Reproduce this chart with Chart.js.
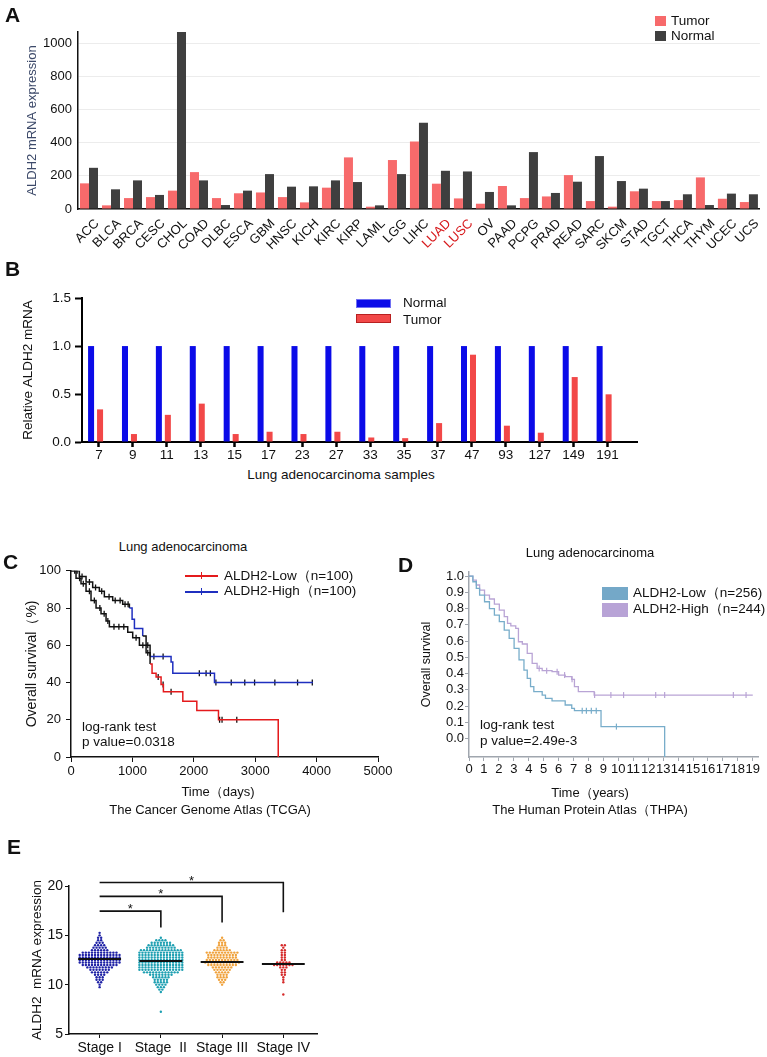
<!DOCTYPE html>
<html>
<head>
<meta charset="utf-8">
<script src="https://cdn.jsdelivr.net/npm/chart.js@4.4.1/dist/chart.umd.min.js"></script>
<style>
  body { margin: 0; background: #fff; width: 767px; height: 1057px; position: relative; overflow: hidden;
         font-family: "Liberation Sans", Arial, Helvetica, sans-serif; color: #111; }
  canvas { position: absolute; }
  .t { position: absolute; white-space: pre; line-height: 1.2; }
  .sw { position: absolute; }
</style>
</head>
<body>
<script>
// ---- Panel A: TCGA tumor vs normal ----
const cancerTypes = ["ACC","BLCA","BRCA","CESC","CHOL","COAD","DLBC","ESCA","GBM","HNSC","KICH","KIRC","KIRP","LAML","LGG","LIHC","LUAD","LUSC","OV","PAAD","PCPG","PRAD","READ","SARC","SKCM","STAD","TGCT","THCA","THYM","UCEC","UCS"];
const tumorExpr  = [155, 22, 66, 72, 111, 223, 66, 95, 100, 72, 40, 129, 312, 14, 296, 408, 153, 64, 32, 139, 66, 76, 205, 48, 14, 107, 48, 54, 191, 62, 42];
const normalExpr = [249, 119, 173, 85, 1070, 173, 24, 111, 211, 135, 137, 173, 163, 22, 211, 521, 231, 227, 103, 22, 344, 97, 165, 320, 169, 123, 48, 89, 24, 93, 89];
const highlighted = ["LUAD", "LUSC"];

// ---- Panel B: qPCR samples ----
const sampleIds = ["7","9","11","13","15","17","23","27","33","35","37","47","93","127","149","191"];
const normalRel = [1, 1, 1, 1, 1, 1, 1, 1, 1, 1, 1, 1, 1, 1, 1, 1];
const tumorRel  = [0.34, 0.083, 0.283, 0.40, 0.083, 0.107, 0.083, 0.107, 0.047, 0.04, 0.197, 0.91, 0.17, 0.097, 0.677, 0.497];
const relTicks  = [0, 0.5, 1.0, 1.5];

// ---- Panel C: TCGA survival (days, % alive after each step) ----
const tcgaLowDays  = [0, 82, 163, 245, 326, 408, 489, 571, 625, 924, 1005, 1114, 1223, 1288, 1320, 1386, 1467, 1505, 1821, 2049, 2402, 3375];
const tcgaLowSurv  = [100, 96, 93, 89, 84, 80, 77, 73, 70, 67, 64, 60, 56, 50, 45, 43, 39, 35, 30, 25, 20, 0];
const tcgaHighDays = [0, 136, 245, 353, 462, 543, 679, 842, 951, 995, 1033, 1168, 1223, 1288, 1630, 1658, 2337, 3940];
const tcgaHighSurv = [100, 97, 94, 91, 89, 86, 84, 82, 80, 74, 69, 65, 60, 54, 51, 45, 40, 40];
const tcgaLowCensor  = [60, 140, 200, 300, 380, 470, 540, 600, 700, 780, 860, 1060, 1170, 1250, 1420, 1500, 1630, 2420, 2460, 2700];
const tcgaHighCensor = [100, 180, 300, 400, 500, 620, 720, 800, 880, 930, 1250, 1350, 1500, 2090, 2200, 2270, 2360, 2610, 2830, 2990, 3320, 3690, 3930];
const tcgaLowBlack  = [[0, 1300]];
const tcgaHighBlack = [[0, 990], [1168, 1300]];

// ---- Panel D: THPA survival (years, fraction) ----
const thpaLowYears  = [0, 0.26, 0.49, 0.71, 1.04, 1.37, 1.70, 2.03, 2.36, 2.69, 3.02, 3.35, 3.68, 3.90, 4.12, 4.34, 4.90, 5.12, 5.56, 6.44, 6.88, 7.06, 8.84, 13.1];
const thpaLowSurv   = [1.0, 0.965, 0.924, 0.883, 0.842, 0.80, 0.76, 0.72, 0.668, 0.617, 0.555, 0.484, 0.422, 0.371, 0.32, 0.289, 0.268, 0.248, 0.232, 0.207, 0.186, 0.172, 0.074, -0.113];
const thpaHighYears = [0, 0.26, 0.49, 0.71, 1.04, 1.37, 1.70, 2.03, 2.36, 2.58, 2.80, 3.13, 3.31, 3.57, 3.90, 4.23, 4.56, 4.90, 5.56, 6.00, 6.44, 6.88, 7.06, 7.32, 8.38, 19.0];
const thpaHighSurv  = [1.0, 0.975, 0.945, 0.914, 0.883, 0.859, 0.828, 0.791, 0.75, 0.709, 0.693, 0.678, 0.596, 0.582, 0.525, 0.463, 0.432, 0.418, 0.412, 0.391, 0.381, 0.365, 0.32, 0.289, 0.268, 0.268];
const thpaLowCensor  = [7.58, 7.86, 8.19, 8.52, 9.87];
const thpaHighCensor = [4.7, 5.2, 5.9, 6.4, 6.9, 8.41, 9.5, 10.35, 12.5, 13.1, 17.7, 18.55];
const thpaSurvTicks = [0.0, 0.1, 0.2, 0.3, 0.4, 0.5, 0.6, 0.7, 0.8, 0.9, 1.0];
const thpaYearTicks = [0, 1, 2, 3, 4, 5, 6, 7, 8, 9, 10, 11, 12, 13, 14, 15, 16, 17, 18, 19];

// ---- Panel E: expression by stage (count of samples at each level) ----
const stageNames = ["Stage I", "Stage  II", "Stage III", "Stage IV"];
const eLevels = [7.0, 7.25, 7.5, 7.75, 8.0, 8.25, 8.5, 8.75, 9.0, 9.25, 9.5, 9.75, 10.0, 10.25, 10.5, 10.75, 11.0, 11.25, 11.5, 11.75, 12.0, 12.25, 12.5, 12.75, 13.0, 13.25, 13.5, 13.75, 14.0, 14.25, 14.5, 14.75, 15.0, 15.25];
const stage1Counts = [0,0,0,0,0,0,0,0,0,0,0, 1,1,2,3,3,4,6,7,9,12,14,14,14,14,12,6,5,4,3,2,2,1,1];
const stage2Counts = [0,1,0,0,0,0,0,0,0, 1,2,3,4,5,5,6,8,12,15,15,15,15,15,15,15,15,14,10,9,7,4,1,0,0];
const stage3Counts = [0,0,0,0,0,0,0,0,0,0,0,0, 1,2,3,4,4,5,6,7,10,12,11,10,10,11,6,4,3,3,2,1,0,0];
const stage4Counts = [0,0,0,0,0,0,0,0,1,0,0,0,0,1,1,1,2,2,2,3,7,5,2,2,2,2,2,1,2,0,0,0,0,0];
const stageMeans = [12.6, 12.4, 12.3, 12.1];
const bracketTo   = [1, 2, 3];
const bracketTop  = [17.45, 18.95, 20.35];
const bracketDrop = [15.8, 16.3, 17.35];

Chart.defaults.font.family = '"Liberation Sans", Arial, Helvetica, sans-serif';
Chart.defaults.color = '#111';
Chart.defaults.animation = false;
Chart.defaults.responsive = false;
Chart.defaults.plugins.legend.display = false;
Chart.defaults.plugins.tooltip.enabled = false;

// canvas placed so that the plot area lands on plot {l,t,r,b}
function panelCanvas(plot, pad) {
  const c = document.createElement('canvas');
  const left = plot.l - pad.yw, top = plot.t - pad.tp;
  c.width = plot.r + pad.rp - left;
  c.height = plot.b + pad.xh - top;
  c.style.left = left + 'px';
  c.style.top = top + 'px';
  document.body.appendChild(c);
  return c;
}

function txt(s, x, y, size, opts) {
  opts = opts || {};
  const d = document.createElement('div');
  d.className = 't';
  d.textContent = s;
  d.style.left = x + 'px';
  d.style.top = y + 'px';
  d.style.fontSize = size + 'px';
  d.style.transform = opts.center ? 'translate(-50%,-50%)' : 'translateY(-50%)';
  if (opts.color) d.style.color = opts.color;
  if (opts.bold) d.style.fontWeight = 'bold';
  document.body.appendChild(d);
}

function swatch(x, y, w, h, fill, border) {
  const d = document.createElement('div');
  d.className = 'sw';
  d.style.left = x + 'px'; d.style.top = y + 'px';
  d.style.width = w + 'px'; d.style.height = h + 'px';
  d.style.background = fill;
  if (border) { d.style.boxSizing = 'border-box'; d.style.border = '1px solid ' + border; }
  document.body.appendChild(d);
}

function pts(xs, ys) { return xs.map((x, i) => ({ x: x, y: ys[i] })); }
function survAt(xs, ys, t) {
  let s = ys[0];
  for (let i = 0; i < xs.length; i++) if (xs[i] <= t) s = ys[i];
  return s;
}
function blackSeg(spans, color) {
  return ctx => spans.some(sp => ctx.p0.parsed.x >= sp[0] && ctx.p1.parsed.x <= sp[1]) ? '#111' : color;
}

// ================= A =================
{
  const pad = { yw: 78, tp: 32, xh: 45, rp: 4 };
  const c = panelCanvas({ l: 78, t: 32, r: 763, b: 209 }, pad);
  new Chart(c, {
    type: 'bar',
    data: {
      labels: cancerTypes,
      datasets: [
        { label: 'Tumor', data: tumorExpr, backgroundColor: '#f76a6b', categoryPercentage: 0.82, barPercentage: 1 },
        { label: 'Normal', data: normalExpr, backgroundColor: '#3f3f3f', categoryPercentage: 0.82, barPercentage: 1 }
      ]
    },
    options: {
      layout: { padding: { top: pad.tp, right: pad.rp, left: 0, bottom: 0 } },
      scales: {
        x: {
          grid: { display: true, drawOnChartArea: false, drawTicks: false },
          border: { color: '#111', width: 1.5 },
          ticks: { autoSkip: false, minRotation: 45, maxRotation: 45, padding: 7, labelOffset: 8, font: { size: 13 },
                   color: ctx => highlighted.includes(cancerTypes[ctx.index]) ? '#d7191c' : '#111' },
          afterFit: s => { s.height = pad.xh; }
        },
        y: {
          min: 0, max: 1070,
          ticks: { stepSize: 200, includeBounds: false, padding: 6, font: { size: 13 }, callback: v => String(v) },
          grid: { color: '#ececec', drawTicks: false },
          border: { color: '#111', width: 1.5 },
          title: { display: true, text: 'ALDH2 mRNA expression', color: '#3d4a6a', font: { size: 13 }, padding: { top: 24.2, bottom: 0 } },
          afterFit: s => { s.width = pad.yw; }
        }
      }
    }
  });
  swatch(655, 16, 11, 10, '#f76a6b');
  swatch(655, 31, 11, 10, '#3f3f3f');
  txt('Tumor', 671, 21, 13.5);
  txt('Normal', 671, 36, 13.5);
}

// ================= B =================
{
  const pad = { yw: 82, tp: 6, xh: 24, rp: 10 };
  const c = panelCanvas({ l: 82, t: 292, r: 637, b: 442 }, pad);
  new Chart(c, {
    type: 'bar',
    data: {
      datasets: [
        { label: 'Normal', data: pts(sampleIds.map((s, i) => i), normalRel), backgroundColor: '#0b0be8', categoryPercentage: 0.53, barPercentage: 0.67 },
        { label: 'Tumor', data: pts(sampleIds.map((s, i) => i), tumorRel), backgroundColor: '#f24848', categoryPercentage: 0.53, barPercentage: 0.67 }
      ]
    },
    options: {
      layout: { padding: { top: pad.tp, right: pad.rp, left: 0, bottom: 0 } },
      scales: {
        x: {
          type: 'linear', min: -0.4, max: 15.97, offset: false,
          afterBuildTicks: s => { s.ticks = sampleIds.map((id, i) => ({ value: i + 0.1 })); },
          ticks: { callback: (v, i) => sampleIds[i], padding: 0, font: { size: 13.5 }, autoSkip: false, maxRotation: 0 },
          grid: { drawOnChartArea: false, offset: false, tickLength: 5, tickWidth: 2.5, tickColor: '#000' },
          border: { color: '#000', width: 2 },
          afterFit: s => { s.height = pad.xh; }
        },
        y: {
          min: 0, max: 1.5,
          afterBuildTicks: s => { s.ticks = relTicks.map(v => ({ value: v })); },
          ticks: { callback: v => v.toFixed(1), padding: 4, font: { size: 13.5 } },
          grid: { drawOnChartArea: false, tickLength: 7, tickWidth: 2, tickColor: '#000' },
          border: { color: '#000', width: 2 },
          title: { display: true, text: 'Relative ALDH2 mRNA', font: { size: 13.5 }, padding: { top: 19.9, bottom: 0 } },
          afterFit: s => { s.width = pad.yw; }
        }
      }
    }
  });
  swatch(356, 299, 35, 9, '#0b0be8', '#7070f2');
  swatch(356, 314, 35, 9, '#f24848', '#b82020');
  txt('Normal', 403, 303, 13.5);
  txt('Tumor', 403, 320, 13.5);
  txt('Lung adenocarcinoma samples', 341, 475, 13.5, { center: true });
}

// ================= C =================
{
  const pad = { yw: 71, tp: 12, xh: 28, rp: 20 };
  const c = panelCanvas({ l: 71, t: 570, r: 378, b: 757 }, pad);
  const red = '#e41a1c', blue = '#1f2fbf';
  new Chart(c, {
    type: 'line',
    data: {
      datasets: [
        { data: pts(tcgaLowDays, tcgaLowSurv), borderColor: red, borderWidth: 1.5, pointRadius: 0, stepped: true,
          segment: { borderColor: blackSeg(tcgaLowBlack, red) } },
        { data: pts(tcgaHighDays, tcgaHighSurv), borderColor: blue, borderWidth: 1.5, pointRadius: 0, stepped: true,
          segment: { borderColor: blackSeg(tcgaHighBlack, blue) } },
        { data: tcgaLowCensor.map(t => ({ x: t, y: survAt(tcgaLowDays, tcgaLowSurv, t) })), showLine: false,
          pointStyle: 'line', rotation: 90, pointRadius: 3, borderColor: '#111', borderWidth: 1.3 },
        { data: tcgaHighCensor.map(t => ({ x: t, y: survAt(tcgaHighDays, tcgaHighSurv, t) })), showLine: false,
          pointStyle: 'line', rotation: 90, pointRadius: 3, borderColor: '#111', borderWidth: 1.3 }
      ]
    },
    options: {
      layout: { padding: { top: pad.tp, right: pad.rp, left: 0, bottom: 0 } },
      scales: {
        x: {
          type: 'linear', min: 0, max: 5000,
          ticks: { stepSize: 1000, padding: 2, font: { size: 13 }, maxRotation: 0, callback: v => String(v) },
          grid: { drawOnChartArea: false, tickLength: 5, tickColor: '#111' },
          border: { color: '#111', width: 1.5 },
          afterFit: s => { s.height = pad.xh; }
        },
        y: {
          min: 0, max: 100,
          ticks: { stepSize: 20, padding: 5, font: { size: 13 } },
          grid: { drawOnChartArea: false, tickLength: 5, tickColor: '#111' },
          border: { color: '#111', width: 1.5 },
          title: { display: true, text: 'Overall survival（%)', font: { size: 14 }, padding: { top: 23.6, bottom: 0 } },
          afterFit: s => { s.width = pad.yw; }
        }
      }
    }
  });
  txt('Lung adenocarcinoma', 183, 547, 13, { center: true });
  swatch(185, 575, 33, 1.6, red);
  swatch(201, 572, 1.4, 7, red);
  swatch(185, 591, 33, 1.6, blue);
  swatch(201, 588, 1.4, 7, blue);
  txt('ALDH2-Low（n=100)', 224, 576, 13.5);
  txt('ALDH2-High（n=100)', 224, 591, 13.5);
  txt('log-rank test', 82, 727, 13.5);
  txt('p value=0.0318', 82, 742, 13.5);
  txt('Time（days)', 218, 792, 13, { center: true });
  txt('The Cancer Genome Atlas (TCGA)', 210, 810, 13, { center: true });
}

// ================= D =================
{
  const pad = { yw: 89, tp: 10, xh: 24, rp: 9 };
  const c = panelCanvas({ l: 469, t: 572, r: 758, b: 757 }, pad);
  const lowC = '#78adca', highC = '#b9a4d5';
  new Chart(c, {
    type: 'line',
    data: {
      datasets: [
        { data: pts(thpaLowYears, thpaLowSurv), borderColor: lowC, borderWidth: 1.3, pointRadius: 0, stepped: true },
        { data: pts(thpaHighYears, thpaHighSurv), borderColor: highC, borderWidth: 1.3, pointRadius: 0, stepped: true },
        { data: thpaLowCensor.map(t => ({ x: t, y: survAt(thpaLowYears, thpaLowSurv, t) })), showLine: false,
          pointStyle: 'line', rotation: 90, pointRadius: 3, borderColor: lowC, borderWidth: 1.2 },
        { data: thpaHighCensor.map(t => ({ x: t, y: survAt(thpaHighYears, thpaHighSurv, t) })), showLine: false,
          pointStyle: 'line', rotation: 90, pointRadius: 3, borderColor: highC, borderWidth: 1.2 }
      ]
    },
    options: {
      layout: { padding: { top: pad.tp, right: pad.rp, left: 0, bottom: 0 } },
      scales: {
        x: {
          type: 'linear', min: 0, max: 19.35,
          afterBuildTicks: s => { s.ticks = thpaYearTicks.map(v => ({ value: v })); },
          ticks: { padding: 1, font: { size: 13 }, autoSkip: false, maxRotation: 0, callback: v => String(v) },
          grid: { drawOnChartArea: false, tickLength: 4, tickColor: '#a0a6ae' },
          border: { color: '#a0a6ae', width: 1.5 },
          afterFit: s => { s.height = pad.xh; }
        },
        y: {
          min: -0.113, max: 1.025,
          afterBuildTicks: s => { s.ticks = thpaSurvTicks.map(v => ({ value: v })); },
          ticks: { padding: 1, font: { size: 13 }, autoSkip: false, callback: v => v.toFixed(1) },
          grid: { drawOnChartArea: false, tickLength: 4, tickColor: '#a0a6ae' },
          border: { color: '#a0a6ae', width: 1.5 },
          title: { display: true, text: 'Overall survival', font: { size: 12.5 }, padding: { top: 39.5, bottom: 0 } },
          afterFit: s => { s.width = pad.yw; }
        }
      }
    }
  });
  txt('Lung adenocarcinoma', 590, 553, 13, { center: true });
  swatch(602, 587, 26, 13, '#74a8c8');
  swatch(602, 603, 26, 14, '#b8a3d6');
  txt('ALDH2-Low（n=256)', 633, 593, 13.5);
  txt('ALDH2-High（n=244)', 633, 609, 13.5);
  txt('log-rank test', 480, 725, 13.5);
  txt('p value=2.49e-3', 480, 741, 13.5);
  txt('Time（years)', 590, 793, 13, { center: true });
  txt('The Human Protein Atlas（THPA)', 590, 810, 13, { center: true });
}

// ================= E =================
{
  const pad = { yw: 69, tp: 26, xh: 23, rp: 10 };
  const c = panelCanvas({ l: 69, t: 886, r: 317, b: 1034 }, pad);
  const stageColors = ['#1f22a6', '#1fa0b2', '#f0a23c', '#d52a2a'];
  const stageCounts = [stage1Counts, stage2Counts, stage3Counts, stage4Counts];
  const swarmStep = 0.05;
  const datasets = [];
  stageMeans.forEach((m, s) => {
    datasets.push({ type: 'line', data: [{ x: s - 0.35, y: m }, { x: s + 0.35, y: m }], borderColor: '#111',
                    borderWidth: 2, pointRadius: 0, order: 0 });
  });
  bracketTo.forEach((to, i) => {
    datasets.push({ type: 'line', data: [{ x: 0, y: bracketTop[i] }, { x: to, y: bracketTop[i] }, { x: to, y: bracketDrop[i] }],
                    borderColor: '#111', borderWidth: 1.6, pointRadius: 0, clip: false, order: 0 });
  });
  stageCounts.forEach((counts, s) => {
    const data = [];
    counts.forEach((n, j) => {
      for (let k = 0; k < n; k++) data.push({ x: s + (k - (n - 1) / 2) * swarmStep, y: eLevels[j] });
    });
    datasets.push({ data: data, backgroundColor: stageColors[s], borderWidth: 0, pointRadius: 1.2, order: 1 });
  });
  const stars = {
    id: 'stars',
    afterDatasetsDraw(chart) {
      const ctx = chart.ctx, xs = chart.scales.x, ys = chart.scales.y;
      ctx.save();
      ctx.fillStyle = '#111';
      ctx.font = '13px "Liberation Sans", Arial, sans-serif';
      ctx.textAlign = 'center';
      ctx.textBaseline = 'alphabetic';
      bracketTo.forEach((to, i) => {
        ctx.fillText('*', xs.getPixelForValue(to / 2), ys.getPixelForValue(bracketTop[i]) + 2);
      });
      ctx.restore();
    }
  };
  new Chart(c, {
    type: 'scatter',
    data: { datasets: datasets },
    plugins: [stars],
    options: {
      layout: { padding: { top: pad.tp, right: pad.rp, left: 0, bottom: 0 } },
      scales: {
        x: {
          type: 'linear', min: -0.5, max: 3.55,
          afterBuildTicks: s => { s.ticks = stageNames.map((n, i) => ({ value: i })); },
          ticks: { callback: (v, i) => stageNames[i], padding: 2, font: { size: 14 }, autoSkip: false, maxRotation: 0 },
          grid: { drawOnChartArea: false, tickLength: 4, tickColor: '#111' },
          border: { color: '#111', width: 1.5 },
          afterFit: s => { s.height = pad.xh; }
        },
        y: {
          min: 5, max: 20,
          ticks: { stepSize: 5, padding: 2, font: { size: 14 } },
          grid: { drawOnChartArea: false, tickLength: 4, tickColor: '#111' },
          border: { color: '#111', width: 1.5 },
          title: { display: true, text: 'ALDH2  mRNA expression', font: { size: 13.5 }, padding: { top: 28.9, bottom: 0 } },
          afterFit: s => { s.width = pad.yw; }
        }
      }
    }
  });
}

// panel letters
txt('A', 5, 14.5, 21, { bold: true });
txt('B', 5, 269, 21, { bold: true });
txt('C', 3, 562, 21, { bold: true });
txt('D', 398, 565, 21, { bold: true });
txt('E', 7, 847, 21, { bold: true });
</script>
</body>
</html>
